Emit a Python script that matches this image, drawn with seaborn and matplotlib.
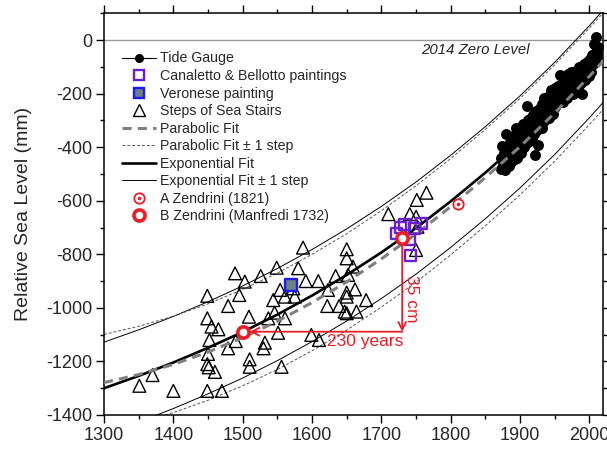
import numpy as np
import seaborn as sns
import matplotlib
matplotlib.use("Agg")
import matplotlib.pyplot as plt
from matplotlib.lines import Line2D
from matplotlib.ticker import MultipleLocator

# fitted curves, every 50 years
fit_years = [1300, 1350, 1400, 1450, 1500, 1550, 1600, 1650, 1700, 1750, 1800, 1850, 1900, 1950, 2000, 2020]
exp_fit = [-1300, -1254, -1204, -1149, -1090, -1025, -954, -877, -793, -702, -602, -495, -380, -255, -118, -60]
exp_upper = [-1128, -1082, -1032, -977, -918, -853, -782, -705, -621, -530, -430, -323, -208, -83, 54, 112]
exp_lower = [-1472, -1426, -1376, -1321, -1262, -1197, -1126, -1049, -965, -874, -774, -667, -552, -427, -290, -232]
par_fit = [-1279, -1249, -1211, -1165, -1111, -1050, -980, -903, -817, -724, -622, -513, -398, -272, -135, -78]
par_upper = [-1099, -1069, -1031, -985, -931, -870, -800, -723, -637, -544, -442, -333, -218, -92, 45, 102]
par_lower = [-1459, -1429, -1391, -1345, -1291, -1230, -1160, -1083, -997, -904, -802, -693, -578, -452, -315, -258]

# tide gauge, yearly 1872-2012
tg_years = np.arange(1872, 2013)
tg_mm = [-480, -440, -395, -470, -455, -420, -485, -350,
         -430, -465, -400, -445, -470, -380, -415, -455, -390, -430,
         -360, -420, -445, -395, -330, -410, -440, -375, -400, -350,
         -390, -420, -345, -370, -315, -400, -365, -330, -385, -355,
         -245, -300, -380, -340, -310, -355, -290, -370, -325, -280,
         -350, -430, -310, -265, -335, -300, -390, -280, -320, -255,
         -290, -330, -240, -305, -275, -215, -300, -260, -220, -285,
         -250, -210, -290, -230, -265, -185, -240, -275, -200, -225,
         -180, -250, -215, -195, -235, -170, -205, -130, -225, -185,
         -160, -200, -230, -150, -190, -140, -175, -215, -160, -125,
         -165, -135, -190, -150, -120, -175, -145, -200, -130, -155,
         -140, -115, -165, -125, -180, -100, -150, -120, -160, -110,
         -200, -125, -90, -150, -110, -140, -80, -120, -95, -135,
         -100, -70, -120, -85, -55, -90, -65, -15, -75, -45,
         10, -50, -25]

# steps of sea stairs
stairs_year = [1351, 1370, 1400, 1449, 1449, 1455, 1465, 1452, 1450, 1449, 1451, 1460, 1449, 1470,
               1489, 1503, 1495, 1479, 1509, 1490, 1479, 1510, 1510, 1526, 1549, 1551, 1532, 1530,
               1556, 1587, 1580, 1591, 1609, 1554, 1561, 1544, 1573, 1575, 1546, 1537, 1561, 1599,
               1610, 1650, 1650, 1634, 1652, 1659, 1623, 1650, 1662, 1650, 1622, 1639, 1647, 1650,
               1664, 1678, 1710, 1765, 1751, 1741, 1750, 1752, 1750]
stairs_mm = [-1291, -1251, -1310, -955, -1039, -1070, -1080, -1120, -1172, -1210, -1222, -1239, -1310, -1310,
             -871, -902, -952, -993, -1033, -1124, -1151, -1192, -1220, -881, -850, -1093, -1130, -1151,
             -1220, -775, -852, -900, -900, -933, -958, -971, -927, -958, -1018, -1039, -1039, -1101,
             -1120, -781, -815, -881, -877, -846, -933, -943, -931, -958, -993, -993, -1014, -1020,
             -1014, -971, -650, -570, -597, -650, -660, -697, -784]

canaletto_year = [1722, 1727, 1734, 1740, 1748, 1758, 1742]
canaletto_mm = [-722, -700, -690, -745, -705, -684, -803]
veronese_year = [1570]
veronese_mm = [-915]
zendrini_a_year = [1811]
zendrini_a_mm = [-612]
zendrini_b_year = [1500, 1730]
zendrini_b_mm = [-1089, -739]

red = "#ee1c25"
purple = "#6a1fd0"

sns.set_style("ticks")
plt.rcParams["font.family"] = ["Liberation Sans", "DejaVu Sans"]
plt.rcParams["axes.unicode_minus"] = False

fig = plt.figure(figsize=(6.07, 4.49), dpi=100)
ax = fig.add_axes([104 / 607, 1 - 415 / 449, 499.3 / 607, 401.7 / 449])

ax.axhline(0, color="#999999", lw=1.0, zorder=1)

# +/- 1 step curves
for vals in (exp_upper, exp_lower):
    sns.lineplot(x=fit_years, y=vals, color="black", lw=0.7, sort=False, estimator=None, ax=ax, zorder=2)
for vals in (par_upper, par_lower):
    sns.lineplot(x=fit_years, y=vals, color="#555555", lw=0.7, linestyle=(0, (3, 2)),
                 sort=False, estimator=None, ax=ax, zorder=2)

sns.scatterplot(x=stairs_year, y=stairs_mm, marker="^", s=85, facecolor="none",
                edgecolor="black", linewidth=1.0, ax=ax, zorder=3)

sns.lineplot(x=fit_years, y=exp_fit, color="black", lw=1.9, sort=False, estimator=None, ax=ax, zorder=3.5)

sns.scatterplot(x=tg_years, y=tg_mm, color="black", s=62, linewidth=0, ax=ax, zorder=4)

sns.lineplot(x=fit_years, y=par_fit, color="#808080", lw=2.2, linestyle=(0, (3, 2)),
             sort=False, estimator=None, ax=ax, zorder=5)

sns.scatterplot(x=canaletto_year, y=canaletto_mm, marker="s", s=62, facecolor="none",
                edgecolor=purple, linewidth=1.7, ax=ax, zorder=6)
sns.scatterplot(x=veronese_year, y=veronese_mm, marker="s", s=68, color="#6e8080",
                edgecolor="#1a1aff", linewidth=1.7, ax=ax, zorder=6)

sns.scatterplot(x=zendrini_a_year, y=zendrini_a_mm, marker="o", s=56, color="white",
                edgecolor=red, linewidth=1.3, ax=ax, zorder=7)
sns.scatterplot(x=zendrini_a_year, y=zendrini_a_mm, marker="o", s=7, color=red,
                linewidth=0, ax=ax, zorder=7.5)
sns.scatterplot(x=zendrini_b_year, y=zendrini_b_mm, marker="o", s=66, color="white",
                edgecolor=red, linewidth=2.6, ax=ax, zorder=7)

# 230 years / 35 cm arrows
ax.annotate("", xy=(zendrini_b_year[0], zendrini_b_mm[0]), xytext=(zendrini_b_year[1], zendrini_b_mm[0]),
            arrowprops=dict(arrowstyle="->", color=red, lw=1.3, shrinkA=0, shrinkB=5,
                            mutation_scale=14), zorder=6.5)
ax.annotate("", xy=(zendrini_b_year[1], zendrini_b_mm[0]), xytext=(zendrini_b_year[1], zendrini_b_mm[1]),
            arrowprops=dict(arrowstyle="->", color=red, lw=1.3, shrinkA=4.5, shrinkB=0,
                            mutation_scale=14), zorder=6.5)
ax.text(1676, -1126, "230 years", color=red, fontsize=12.5, ha="center", va="center")
ax.text(1744, -967, "35 cm", color=red, fontsize=12.5, ha="center", va="center", rotation=-90)
ax.text(1835, -37, "2014 Zero Level", fontsize=10.8, style="italic", ha="center", va="center")

ax.set_xlim(1300, 2020)
ax.set_ylim(-1400, 100)
ax.xaxis.set_major_locator(MultipleLocator(100))
ax.xaxis.set_minor_locator(MultipleLocator(50))
ax.yaxis.set_major_locator(MultipleLocator(200))
ax.yaxis.set_minor_locator(MultipleLocator(100))
ax.tick_params(which="both", direction="out", top=True, right=True, labelsize=13,
               width=1.0, pad=2.4, color="black")
ax.tick_params(which="major", length=6)
ax.tick_params(which="minor", length=3)
for sp in ax.spines.values():
    sp.set_visible(True)
    sp.set_linewidth(1.1)
    sp.set_color("black")
ax.set_xlabel("")
ax.set_ylabel("Relative Sea Level (mm)", fontsize=14, labelpad=10)

handles = [
    Line2D([], [], color="black", lw=0.8, marker="o", markersize=6.5, markeredgewidth=0),
    Line2D([], [], ls="none", marker="s", markersize=7.5, markerfacecolor="none",
           markeredgecolor=purple, markeredgewidth=1.7),
    Line2D([], [], ls="none", marker="s", markersize=7.5, markerfacecolor="#6e8080",
           markeredgecolor="#1a1aff", markeredgewidth=1.7),
    Line2D([], [], ls="none", marker="^", markersize=8.5, markerfacecolor="none",
           markeredgecolor="black", markeredgewidth=1.0),
    Line2D([], [], color="#808080", lw=2.2, ls=(0, (3, 2))),
    Line2D([], [], color="#555555", lw=0.7, ls=(0, (3, 2))),
    Line2D([], [], color="black", lw=1.9),
    Line2D([], [], color="black", lw=0.7),
    (Line2D([], [], ls="none", marker="o", markersize=7.5, markerfacecolor="white",
            markeredgecolor=red, markeredgewidth=1.3),
     Line2D([], [], ls="none", marker="o", markersize=2.6, markerfacecolor=red, markeredgewidth=0)),
    Line2D([], [], ls="none", marker="o", markersize=8, markerfacecolor="white",
           markeredgecolor=red, markeredgewidth=2.6),
]
labels = ["Tide Gauge", "Canaletto & Bellotto paintings", "Veronese painting", "Steps of Sea Stairs",
          "Parabolic Fit", "Parabolic Fit \u00b1 1 step", "Exponential Fit", "Exponential Fit \u00b1 1 step",
          "A Zendrini (1821)", "B Zendrini (Manfredi 1732)"]
ax.legend(handles, labels, loc="upper left", bbox_to_anchor=(0.036, 0.905), frameon=False,
          fontsize=10.2, borderpad=0, borderaxespad=0, labelspacing=0.25, handlelength=2.4,
          handletextpad=0.3)

fig.savefig("out.png", dpi=100)
